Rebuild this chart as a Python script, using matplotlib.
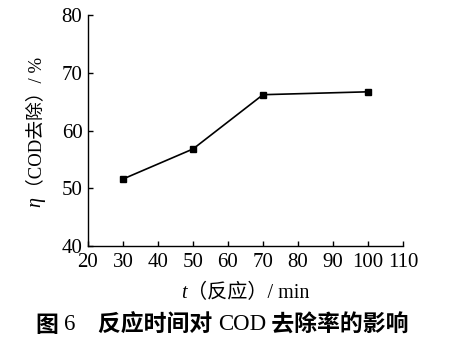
import matplotlib
matplotlib.use("Agg")
import matplotlib.pyplot as plt

time_min = [30, 50, 70, 100]
removal_pct = [51.6, 56.8, 66.2, 66.7]
x_ticks = [20, 30, 40, 50, 60, 70, 80, 90, 100, 110]
y_ticks = [40, 50, 60, 70, 80]

fam = ['Liberation Serif', 'Noto Sans CJK SC']
plt.rcParams['font.family'] = fam

W, H = 452, 354
fig = plt.figure(figsize=(W/100, H/100), dpi=100)
ax = fig.add_axes([88/W, 1-246/H, (403-88)/W, (246-15)/H])

ax.plot(time_min, removal_pct, color='black', lw=1.2, marker='s', ms=4.5)
ax.set_xlim(20, 110)
ax.set_ylim(40, 80)
ax.set_xticks(x_ticks)
ax.set_yticks(y_ticks)
ax.spines['top'].set_visible(False)
ax.spines['right'].set_visible(False)
for s in ('left', 'bottom'):
    ax.spines[s].set_linewidth(1.0)
ax.tick_params(direction='in', length=3.5, width=1.0, labelsize=15, colors='black')
ax.tick_params(axis='x', pad=5)
ax.tick_params(axis='y', pad=4)

renderer = fig.canvas.get_renderer()

def pieces(cx, cy, parts, rotation=0):
    """parts: list of (string, kwargs). cx, cy in pixels from top-left."""
    texts = []
    sizes = []
    for s, kw in parts:
        t = fig.text(0, 0, s, ha='left', va='center', rotation=rotation, **kw)
        bb = t.get_window_extent(renderer)
        texts.append(t)
        sizes.append(bb.width if rotation == 0 else bb.height)
    total = sum(sizes)
    if rotation == 0:
        x = cx - total/2
        for t, w in zip(texts, sizes):
            t.set_position((x/W, 1-cy/H))
            x += w
    else:
        y = (H - cy) - total/2
        for t, h in zip(texts, sizes):
            t.set_position((cx/W, y/H))
            t.set_ha('center'); t.set_va('bottom')
            y += h

ser = dict(fontsize=14.5, family=fam)
pieces(245, 293, [('t', dict(fontsize=14.5, family='Liberation Serif', style='italic')),
                  ('（反应）/ min', ser)])
pieces(36, 132, [('η', dict(fontsize=14.5, family='Liberation Serif', style='italic')),
                 ('（COD去除）/ %', dict(fontsize=13.5, family=fam))], rotation=90)
cjkb = dict(fontsize=16.5, fontweight='bold', family=['Noto Sans CJK SC'])
serc = dict(fontsize=16.5, family='Liberation Serif')
pieces(222, 325, [('图 ', cjkb), ('6', serc),
                  ('\u3000反应时间对 ', cjkb), ('COD', serc),
                  (' 去除率的影响', cjkb)])

fig.savefig('out.png', dpi=100)
